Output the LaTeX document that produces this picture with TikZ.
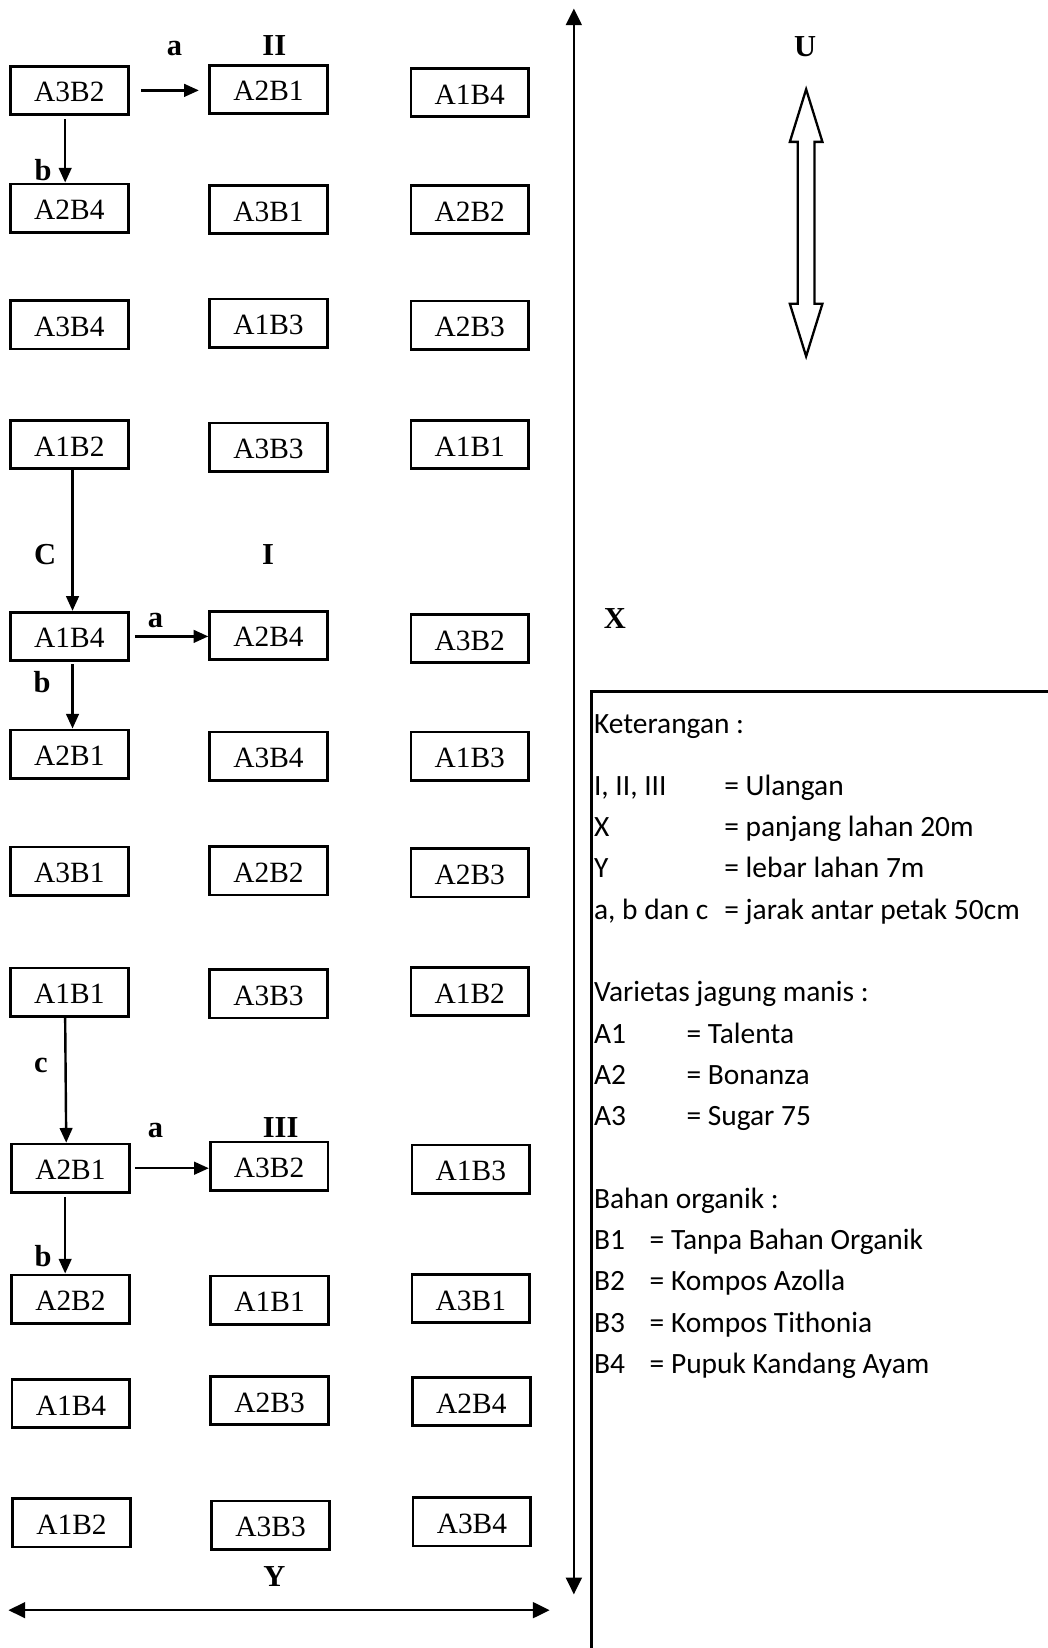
\documentclass[tikz,border=0pt]{standalone}
\usepackage{fontspec}
\setmainfont{Liberation Serif}
\newfontfamily\legfont{Carlito}
\usetikzlibrary{arrows.meta}
\begin{document}
\begin{tikzpicture}[x=1pt,y=-1pt,
 plot/.style={draw, line width=2.6pt, minimum width=112pt, minimum height=46pt, inner sep=0pt, text height=22pt, text depth=0pt, font=\fontsize{28}{28}\selectfont},
 lab/.style={font=\fontsize{29}{29}\selectfont\bfseries, anchor=base, inner sep=0pt},
 conn/.style={line width=2.3pt, -{Triangle[length=14pt,width=12pt]}},
 axis/.style={line width=2.4pt, {Triangle[length=16pt,width=15pt]}-{Triangle[length=16pt,width=15pt]}},
 leg/.style={font=\legfont\fontsize{28}{28}\selectfont, anchor=base west, inner sep=0pt},
]
\useasboundingbox (0,0) rectangle (997,1568);
% boxes
\node[plot] (r1c1) at (66,86) {A3B2};
\node[plot] (r1c2) at (255.5,85) {A2B1};
\node[plot] (r1c3) at (447,88) {A1B4};
\node[plot] (r2c1) at (66,198) {A2B4};
\node[plot] (r2c2) at (255.5,199.5) {A3B1};
\node[plot] (r2c3) at (447,199.5) {A2B2};
\node[plot] (r3c1) at (66,309) {A3B4};
\node[plot] (r3c2) at (255.5,307.5) {A1B3};
\node[plot] (r3c3) at (447,309.5) {A2B3};
\node[plot] (r4c1) at (66,423) {A1B2};
\node[plot] (r4c2) at (255.5,425.5) {A3B3};
\node[plot] (r4c3) at (447,423) {A1B1};
\node[plot] (r5c1) at (66,605.5) {A1B4};
\node[plot] (r5c2) at (255.5,604.5) {A2B4};
\node[plot] (r5c3) at (447,607.5) {A3B2};
\node[plot] (r6c1) at (66,717.5) {A2B1};
\node[plot] (r6c2) at (255.5,719.5) {A3B4};
\node[plot] (r6c3) at (447,719.5) {A1B3};
\node[plot] (r7c1) at (66,829) {A3B1};
\node[plot] (r7c2) at (255.5,828.5) {A2B2};
\node[plot] (r7c3) at (447,830.5) {A2B3};
\node[plot] (r8c1) at (66,944) {A1B1};
\node[plot] (r8c2) at (255.5,945.5) {A3B3};
\node[plot] (r8c3) at (447,943.5) {A1B2};
\node[plot] (r9c1) at (67,1111.5) {A2B1};
\node[plot] (r9c2) at (256,1109.5) {A3B2};
\node[plot] (r9c3) at (448,1112.5) {A1B3};
\node[plot] (r10c1) at (67,1236) {A2B2};
\node[plot] (r10c2) at (256.5,1237) {A1B1};
\node[plot] (r10c3) at (448,1235.5) {A3B1};
\node[plot] (r11c1) at (67.5,1335.5) {A1B4};
\node[plot] (r11c2) at (256.5,1332.5) {A2B3};
\node[plot] (r11c3) at (448.5,1333.5) {A2B4};
\node[plot] (r12c1) at (68,1449) {A1B2};
\node[plot] (r12c2) at (257.5,1451) {A3B3};
\node[plot] (r12c3) at (449,1448) {A3B4};
% connectors
\draw[conn, shorten <=11pt, shorten >=9pt] (r1c1.east) -- (r1c1.east -| r1c2.west);
\draw[conn, shorten <=3pt] ([xshift=-4pt]r1c1.south) -- ([xshift=-4pt]r2c1.north);
\draw[conn] ([xshift=3pt]r4c1.south) -- ([xshift=3pt]r5c1.north);
\draw[conn, shorten <=5pt] (r5c1.east) -- (r5c1.east -| r5c2.west);
\draw[conn, shorten <=2pt] ([xshift=3pt]r5c1.south) -- ([xshift=3pt]r6c1.north);
\draw[conn] ([xshift=-4pt]r8c1.south) -- ([xshift=-4pt]r9c1.north);
\draw[conn, shorten <=4pt] (r9c1.east) -- (r9c1.east -| r9c2.west);
\draw[conn, shorten <=3pt] ([xshift=-5pt]r9c1.south) -- ([xshift=-5pt]r10c1.north);
% labels
\node[lab] (la1) at (166,53) {a};
\node[lab] (lII) at (261,53) {II};
\node[lab] (lb1) at (41,172) {b};
\node[lab] (lC) at (43,537) {C};
\node[lab] (lI) at (255,537) {I};
\node[lab] (la2) at (148,597) {a};
\node[lab] (lb2) at (40,659) {b};
\node[lab] (lc) at (39,1020) {c};
\node[lab] (la3) at (148,1082) {a};
\node[lab] (lIII) at (267,1082) {III};
\node[lab] (lb3) at (41,1205) {b};
\node[lab] (lY) at (261,1509) {Y};
\node[lab] (lX) at (585,598) {X};
\node[lab] (lU) at (766,54) {U};
% axes
\coordinate (xt) at (546,8);
\coordinate (xb) at (546,1517);
\draw[axis] (xt) -- (xb);
\coordinate (yl) at (8,1532);
\coordinate (yr) at (523,1532);
\draw[axis] (yl) -- (yr);
% north arrow (hollow double arrow)
\draw[line width=2.2pt, line join=miter] (767,85) -- (782.5,135) -- (775,135) -- (775,289) -- (782.5,289) -- (767,339) -- (751.5,289) -- (759,289) -- (759,135) -- (751.5,135) -- cycle;
% legend frame
\draw[line width=2.6pt] (563,1572) -- (563,658) -- (1001,658);
% legend text
\node[leg] (t0) at (565,698) {Keterangan :};
\node[leg] (k1) at (565,757) {I, II, III};
\node[leg] (v1) at (689,757) {= Ulangan};
\node[leg] (k2) at (565,796) {X};
\node[leg] (v2) at (689,796) {= panjang lahan 20m};
\node[leg] (k3) at (565,835) {Y};
\node[leg] (v3) at (689,835) {= lebar lahan 7m};
\node[leg] (k4) at (565,875) {a, b dan c};
\node[leg] (v4) at (689,875) {= jarak antar petak 50cm};
\node[leg] (t1) at (565,953) {Varietas jagung manis :};
\node[leg] (ka1) at (565,993) {A1};
\node[leg] (va1) at (653,993) {= Talenta};
\node[leg] (ka2) at (565,1032) {A2};
\node[leg] (va2) at (653,1032) {= Bonanza};
\node[leg] (ka3) at (565,1071) {A3};
\node[leg] (va3) at (653,1071) {= Sugar 75};
\node[leg] (t2) at (565,1150) {Bahan organik :};
\node[leg] (kb1) at (565,1189) {B1};
\node[leg] (vb1) at (618,1189) {= Tanpa Bahan Organik};
\node[leg] (kb2) at (565,1228) {B2};
\node[leg] (vb2) at (618,1228) {= Kompos Azolla};
\node[leg] (kb3) at (565,1268) {B3};
\node[leg] (vb3) at (618,1268) {= Kompos Tithonia};
\node[leg] (kb4) at (565,1307) {B4};
\node[leg] (vb4) at (618,1307) {= Pupuk Kandang Ayam};
\end{tikzpicture}
\end{document}
